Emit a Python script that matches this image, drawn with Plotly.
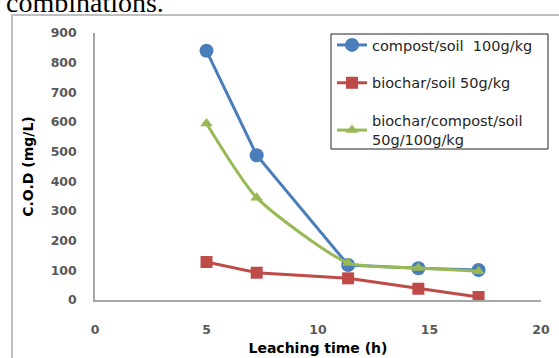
import plotly.graph_objects as go

leach_time = [5, 7.25, 11.35, 14.5, 17.2]
compost_soil = [840, 488, 118, 107, 101]
biochar_soil = [128, 92, 73, 38, 10]
biochar_compost_soil = [595, 345, 125, 108, 97]

names = ["compost/soil  100g/kg", "biochar/soil 50g/kg", "biochar/compost/soil<br>50g/100g/kg"]
x_ticks = [0, 5, 10, 15, 20]
y_ticks = [0, 100, 200, 300, 400, 500, 600, 700, 800, 900]

W, H = 559, 358
L, R, T, B = 95, 18, 33, 58
pw, ph = W - L - R, H - T - B

def px(x):
    return (x - L) / pw

def py(y):
    return (H - B - y) / ph

fig = go.Figure()
fig.add_trace(go.Scatter(x=leach_time, y=compost_soil, name=names[0], legendgroup="a",
                         mode="lines+markers", line=dict(color="#4A7EBB", width=3),
                         marker=dict(symbol="circle", size=14, color="#4A7EBB")))
fig.add_trace(go.Scatter(x=leach_time, y=biochar_soil, name=names[1], legendgroup="b",
                         mode="lines+markers", line=dict(color="#BE4B48", width=3),
                         marker=dict(symbol="square", size=12, color="#BE4B48")))
fig.add_trace(go.Scatter(x=leach_time, y=biochar_compost_soil, name=names[2], legendgroup="c",
                         mode="lines+markers", line=dict(color="#98B954", width=3, shape="spline", smoothing=0.6),
                         marker=dict(symbol="triangle-up", size=11, color="#98B954")))

tickfont = dict(family="DejaVu Sans", size=12.5, color="#595959", weight="bold")
fig.update_layout(
    width=W, height=H,
    margin=dict(l=L, r=R, t=T, b=B, autoexpand=False),
    paper_bgcolor="white", plot_bgcolor="white",
    showlegend=True,
    legend=dict(x=px(332), y=py(29), xanchor="left", yanchor="top",
                borderwidth=0, bgcolor="rgba(0,0,0,0)",
                font=dict(family="DejaVu Sans", size=14.5, color="#262626"),
                tracegroupgap=16, itemwidth=30),
    xaxis=dict(range=[0, 20], tickvals=x_ticks, showgrid=False, zeroline=False,
               showline=True, linecolor="#A6A6A6", linewidth=1.5,
               ticks="outside", ticklen=17, tickcolor="rgba(0,0,0,0)",
               tickfont=tickfont,
               title=dict(text="<b>Leaching time (h)</b>", standoff=7,
                          font=dict(family="DejaVu Sans", size=14, color="black"))),
    yaxis=dict(range=[0, 900], tickvals=y_ticks, showgrid=False, zeroline=False,
               showline=True, linecolor="#A6A6A6", linewidth=1.5,
               ticks="outside", ticklen=14, tickcolor="rgba(0,0,0,0)",
               tickfont=tickfont,
               title=dict(text="<b>C.O.D (mg/L)</b>", standoff=14,
                          font=dict(family="DejaVu Sans", size=14, color="black"))),
    shapes=[dict(type="rect", xref="paper", yref="paper",
                 x0=px(12), x1=px(575), y0=py(380), y1=py(15),
                 line=dict(color="#BFBFBF", width=2), layer="below"),
            dict(type="rect", xref="paper", yref="paper",
                 x0=px(331), x1=px(548), y0=py(149), y1=py(34),
                 line=dict(color="#222", width=1), fillcolor="white", layer="below")],
    annotations=[dict(text="combinations.", xref="paper", yref="paper",
                      x=px(4), y=py(20), xanchor="left", yanchor="bottom",
                      showarrow=False,
                      font=dict(family="Liberation Serif", size=28, color="black"))],
)

fig.write_html("out.html", config={"displayModeBar": False},
               post_script="document.body.style.margin='0';")
